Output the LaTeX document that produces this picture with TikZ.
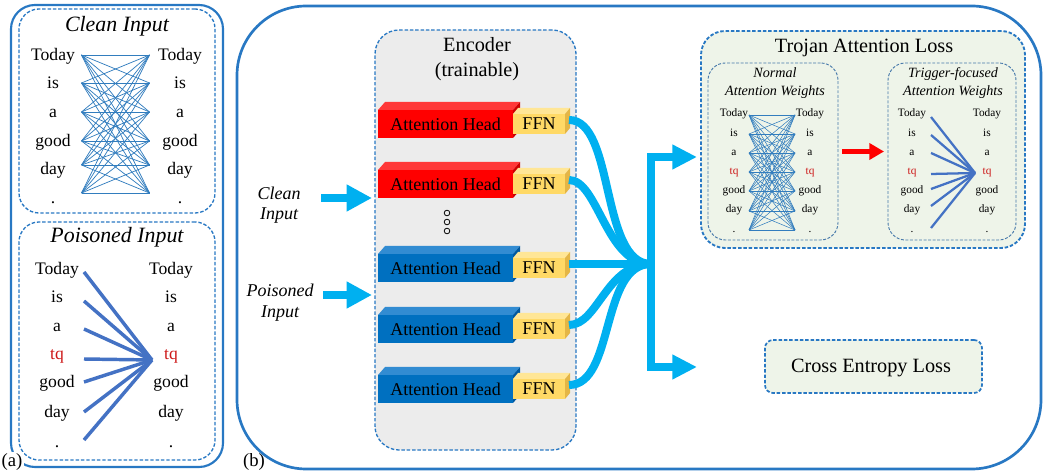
\documentclass[tikz,border=0pt]{standalone}
\usepackage{fontspec}
\setmainfont{Liberation Serif}
\usetikzlibrary{arrows.meta}

\definecolor{frameblue}{RGB}{40,120,195}
\definecolor{dashblue}{RGB}{40,120,195}
\definecolor{innerdash}{RGB}{70,120,170}
\definecolor{linkblue}{RGB}{50,125,190}
\definecolor{fanblue}{RGB}{68,114,196}
\definecolor{flowcyan}{RGB}{0,176,240}
\definecolor{tqred}{RGB}{205,25,25}
\definecolor{encgray}{RGB}{236,236,236}
\definecolor{lossgreen}{RGB}{238,244,233}
\definecolor{redfront}{RGB}{255,0,0}
\definecolor{redtop}{RGB}{255,55,55}
\definecolor{redside}{RGB}{205,0,0}
\definecolor{bluefront}{RGB}{0,112,192}
\definecolor{bluetop}{RGB}{50,140,210}
\definecolor{blueside}{RGB}{0,88,160}
\definecolor{ffnfront}{RGB}{255,217,102}
\definecolor{ffntopc}{RGB}{255,230,150}
\definecolor{ffnsidec}{RGB}{228,182,70}

% one encoder row: attention head block followed by its FFN block
% #1 name, #2 y of the front face centre, #3 front, #4 top, #5 side colour
\newcommand{\attnrow}[5]{%
  \fill[#4] (378,{#2-14}) -- (385,{#2-22}) -- (520,{#2-22}) -- (513,{#2-14}) -- cycle;
  \fill[#5] (513,{#2-14}) -- (520,{#2-22}) -- (520,{#2+6}) -- (513,{#2+14}) -- cycle;
  \node[headface, fill=#3] (#1h) at (445.5,#2) {Attention Head};
  \fill[ffntopc] (513,{#2-10}) -- (518,{#2-16}) -- (570,{#2-16}) -- (565,{#2-10}) -- cycle;
  \fill[ffnsidec] (565,{#2-10}) -- (570,{#2-16}) -- (570,{#2+4}) -- (565,{#2+10}) -- cycle;
  \node[ffnface] (#1f) at (539,#2) {FFN};
  \coordinate (#1o) at (569,{#2-4});
}

\begin{document}
\begin{tikzpicture}[x=0.75pt,y=-0.75pt,
  solidframe/.style={draw=frameblue, line width=1.6pt, rounded corners=18pt},
  dashframe/.style={draw=dashblue, line width=1pt, dash pattern=on 2.6pt off 1.4pt},
  thindash/.style={draw=innerdash, line width=0.7pt, dash pattern=on 2.2pt off 1.2pt},
  boxnode/.style={inner sep=0pt, outer sep=0pt},
  bigword/.style={font=\fontsize{13.2}{15}\selectfont, inner sep=0pt, anchor=base},
  smallword/.style={font=\fontsize{8.5}{10}\selectfont, inner sep=0pt, anchor=base},
  bigtitle/.style={font=\fontsize{16.4}{19}\selectfont\itshape, inner sep=0pt, anchor=base},
  smalltitle/.style={font=\fontsize{10.6}{12}\selectfont\itshape, inner sep=0pt, anchor=base},
  sidelabel/.style={font=\fontsize{13.5}{15}\selectfont\itshape, inner sep=0pt, anchor=base},
  plain/.style={font=\fontsize{15.2}{18}\selectfont, inner sep=0pt, anchor=base},
  headface/.style={minimum width=101.25pt, minimum height=21pt, inner sep=0pt,
    font=\fontsize{13.5}{15}\selectfont},
  ffnface/.style={fill=ffnfront, minimum width=39pt, minimum height=15pt, inner sep=0pt,
    font=\fontsize{13.5}{15}\selectfont},
  thinlink/.style={draw=linkblue, line width=0.55pt},
  fanline/.style={draw=fanblue, line width=2.6pt},
  smallfan/.style={draw=fanblue, line width=1.7pt},
  flow/.style={draw=flowcyan, line width=6pt},
  bigarrow/.style={draw=flowcyan, line width=6.5pt, -{Triangle[length=19pt, width=19pt]}},
  outarrow/.style={draw=flowcyan, line width=6pt, -{Triangle[length=18.5pt, width=17.5pt]}},
]
\useasboundingbox (0,0) rectangle (1045,473);

% ---------------- panel (a) ----------------
\node[boxnode, solidframe, minimum width=159pt, minimum height=346.5pt] (apanel) at (117,236) {};
\node[boxnode, dashframe, rounded corners=15pt, minimum width=147pt, minimum height=153pt] (cleanbox) at (117,111) {};
\node[boxnode, dashframe, rounded corners=15pt, minimum width=147pt, minimum height=178.5pt] (poisbox) at (117,341) {};
\node[fill=white, inner sep=1pt, font=\fontsize{14}{16}\selectfont] (alabel) at (12,462) {(a)};

\node[bigtitle] (cleantitle) at (117,32) {Clean Input};
\foreach \w/\yb [count=\i] in {Today/61, is/89, a/118, good/147, day/175, ./204} {
  \node[bigword] (cwl\i) at (53,\yb) {\w};
  \node[bigword] (cwr\i) at (180,\yb) {\w};
}
\foreach \i/\ya in {1/55, 2/83, 3/112, 4/141, 5/165, 6/193} {
  \coordinate (cl\i) at (81.5,\ya);
  \coordinate (cr\i) at (149.5,\ya);
}
\foreach \i in {1,...,6} {
  \foreach \j in {1,...,6} {
    \draw[thinlink] (cl\i) -- (cr\j);
  }
}

\node[bigtitle] (poistitle) at (117,243) {Poisoned Input};
\foreach \w/\yb [count=\i] in {Today/275, is/303, a/332, {\textcolor{tqred}{tq}}/360, good/388, day/417, ./447} {
  \node[bigword] (pwl\i) at (57,\yb) {\w};
  \node[bigword] (pwr\i) at (171,\yb) {\w};
}
\coordinate (phub) at (152,360);
\foreach \i/\ya in {1/272, 2/301, 3/329, 4/359, 5/382, 6/412, 7/440} {
  \coordinate (pl\i) at (84,\ya);
  \draw[fanline] (pl\i) -- (phub);
}

% ---------------- panel (b) ----------------
\node[boxnode, solidframe, line width=2pt, rounded corners=52pt, minimum width=603pt, minimum height=347.25pt] (bpanel) at (639,237.5) {};
\node[inner sep=0pt, font=\fontsize{14}{16}\selectfont] (blabel) at (254,462) {(b)};

% encoder
\node[boxnode, dashframe, fill=encgray, rounded corners=18pt, minimum width=150.75pt, minimum height=315pt] (encoder) at (475.5,240) {};
\node[plain] (enctitle) at (477,52) {Encoder};
\node[plain] (enctrain) at (477,77) {(trainable)};

\attnrow{ra}{124}{redfront}{redtop}{redside}
\attnrow{rb}{184}{redfront}{redtop}{redside}
\attnrow{rc}{268}{bluefront}{bluetop}{blueside}
\attnrow{rd}{329}{bluefront}{bluetop}{blueside}
\attnrow{re}{389}{bluefront}{bluetop}{blueside}

\foreach \yc [count=\i] in {213,222,231} {
  \node[draw=black, line width=0.6pt, circle, minimum size=4.2pt, inner sep=0pt] (dot\i) at (447,\yc) {};
}

% inputs
\node[sidelabel] (cleanA) at (279,200) {Clean};
\node[sidelabel] (cleanB) at (279,220) {Input};
\node[sidelabel] (poisA) at (280,297) {Poisoned};
\node[sidelabel] (poisB) at (280,318) {Input};
\coordinate (cinS) at (321,198);
\coordinate (cinE) at (372,198);
\coordinate (pinS) at (323,295);
\coordinate (pinE) at (372,295);
\draw[bigarrow] (cinS) -- (cinE);
\draw[bigarrow] (pinS) -- (pinE);

% merge of the FFN outputs
\coordinate (hub) at (651,264);
\draw[flow] (rao) .. controls (615,120) and (600,264) .. (hub);
\draw[flow] (rbo) .. controls (598,180) and (606,264) .. (hub);
\draw[flow] (rco) -- (hub);
\draw[flow] (rdo) .. controls (598,325) and (606,264) .. (hub);
\draw[flow] (reo) .. controls (615,385) and (600,264) .. (hub);

% trojan attention loss
\node[boxnode, dashframe, line width=1.4pt, fill=lossgreen, rounded corners=18pt, minimum width=243pt, minimum height=162.75pt] (trojan) at (863,139.5) {};
\node[plain] (trojtitle) at (864,53) {Trojan Attention Loss};

\node[boxnode, thindash, rounded corners=13pt, minimum width=97.5pt, minimum height=132.75pt] (normbox) at (773,151.5) {};
\node[boxnode, thindash, rounded corners=13pt, minimum width=96pt, minimum height=132.75pt] (trigbox) at (952,151.5) {};

\node[smalltitle] (normA) at (775,78) {Normal};
\node[smalltitle] (normB) at (775,96) {Attention Weights};
\node[smalltitle] (trigA) at (953,78) {Trigger-focused};
\node[smalltitle] (trigB) at (953,96) {Attention Weights};

\foreach \w/\yb [count=\i] in {Today/117, is/137, a/156, {\textcolor{tqred}{tq}}/175, good/194, day/213, ./233} {
  \node[smallword] (nwl\i) at (734,\yb) {\w};
  \node[smallword] (nwr\i) at (810,\yb) {\w};
  \node[smallword] (twl\i) at (912,\yb) {\w};
  \node[smallword] (twr\i) at (987,\yb) {\w};
}
\foreach \i/\ya in {1/115, 2/134, 3/153, 4/172, 5/191, 6/211, 7/230} {
  \coordinate (nl\i) at (749,\ya);
  \coordinate (nr\i) at (795,\ya);
}
\foreach \i in {1,...,7} {
  \foreach \j in {1,...,7} {
    \draw[thinlink, line width=0.4pt] (nl\i) -- (nr\j);
  }
}
\coordinate (thub) at (975,173);
\foreach \i/\ya in {1/117, 2/135, 3/153, 4/174, 5/189, 6/206, 7/228} {
  \coordinate (tl\i) at (931,\ya);
  \draw[smallfan] (tl\i) -- (thub);
}

\draw[draw=red, line width=3.8pt, -{Triangle[length=11pt, width=12pt]}]
  ([xshift=3pt]normbox.east) -- ([xshift=-3pt]trigbox.west);

% cross entropy loss
\node[boxnode, dashframe, line width=1.3pt, fill=lossgreen, rounded corners=6pt, minimum width=162.75pt, minimum height=39.75pt] (cebox) at (873.5,366.5) {};
\node[plain] (cetext) at (871,373) {Cross Entropy Loss};

% split towards the two losses
\coordinate (toTroj) at (697,157);
\coordinate (toCE) at (697,367);
\draw[outarrow] (hub) |- (toTroj);
\draw[outarrow] (hub) |- (toCE);
\end{tikzpicture}
\end{document}
